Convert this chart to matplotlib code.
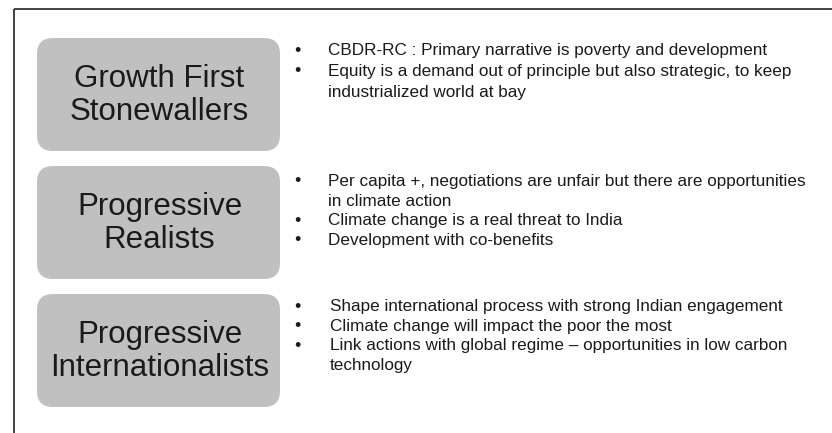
import matplotlib
matplotlib.use("Agg")
import matplotlib.pyplot as plt
from matplotlib.patches import FancyBboxPatch
from matplotlib import font_manager

# categories (left boxes) and their bullet points (one string per printed line)
groups = ["Growth First\nStonewallers",
          "Progressive\nRealists",
          "Progressive\nInternationalists"]

bullets_growth = [
    ["CBDR-RC : Primary narrative is poverty and development"],
    ["Equity is a demand out of principle but also strategic, to keep",
     "industrialized world at bay"],
]
bullets_realists = [
    ["Per capita +, negotiations are unfair but there are opportunities",
     "in climate action"],
    ["Climate change is a real threat to India"],
    ["Development with co-benefits"],
]
bullets_intl = [
    ["Shape international process with strong Indian engagement"],
    ["Climate change will impact the poor the most"],
    ["Link actions with global regime \u2013 opportunities in low carbon",
     "technology"],
]
all_bullets = [bullets_growth, bullets_realists, bullets_intl]

names = {f.name for f in font_manager.fontManager.ttflist}
font = "Arimo" if "Arimo" in names else "Liberation Sans"

W, H = 832, 433
fig = plt.figure(figsize=(W / 100, H / 100), dpi=100)
ax = fig.add_axes([0, 0, 1, 1])
ax.set_xlim(0, W)
ax.set_ylim(H, 0)
ax.axis("off")
renderer = fig.canvas.get_renderer()

# size the bullet font so the first line spans about the width seen in the picture
probe = ax.text(0, 0, bullets_growth[0][0], fontsize=13, family=font)
pw = probe.get_window_extent(renderer).width
probe.remove()
bullet_fs = 13 * 438 / pw

# frame: top and left edges only
ax.plot([13.5, W], [8.5, 8.5], color="#333333", lw=1.3, solid_capstyle="butt")
ax.plot([13.5, 13.5], [8.5, H], color="#333333", lw=1.3, solid_capstyle="butt")

box_tops = [38, 166, 294]
box_h = 113
box_x, box_w = 37, 243
first_line = [49, 180, 305]
steps = [21, 19.5, 19.7]
text_x = [328, 328, 330]

for i, label in enumerate(groups):
    top = box_tops[i]
    patch = FancyBboxPatch((box_x, top), box_w, box_h,
                           boxstyle="round,pad=0,rounding_size=16",
                           fc="#c0c0c0", ec="none")
    ax.add_patch(patch)
    ax.text(box_x + box_w / 2 + 1, top + box_h / 2 + 1, label, ha="center", va="center",
            fontsize=22.5, family=font, color="#1a1a1a", linespacing=1.12)

    y = first_line[i]
    for item in all_bullets[i]:
        ax.text(297, y + 2, "\u2022", ha="center", va="center", fontsize=13,
                family=font, color="#1a1a1a")
        for line in item:
            ax.text(text_x[i], y, line, ha="left", va="center_baseline",
                    fontsize=bullet_fs, family=font, color="#1a1a1a")
            y += steps[i]

fig.savefig("out.png", dpi=100)
